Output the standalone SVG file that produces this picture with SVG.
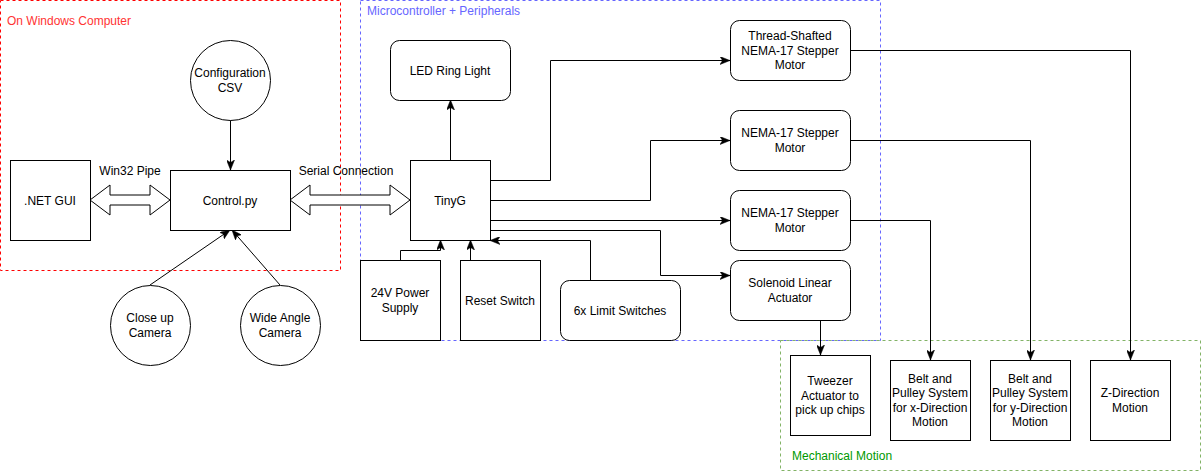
<svg xmlns="http://www.w3.org/2000/svg" width="1202" height="472" viewBox="0 0 1202 472">
<style>
text{font-family:"Liberation Sans",Arial,sans-serif;font-size:12px;fill:#000;text-anchor:middle}
.lbl{text-anchor:start}
.box{fill:#fff;stroke:#000;stroke-width:1}
.wire{fill:none;stroke:#000;stroke-width:1}
.arr{marker-end:url(#ah)}
.fat{fill:#fff;stroke:#000;stroke-width:1}
</style>
<defs>
<marker id="ah" markerUnits="userSpaceOnUse" viewBox="0 0 10 8" refX="10" refY="4" markerWidth="10" markerHeight="8" orient="auto">
<path d="M0,0 L10,4 L0,8 L2.5,4 z" fill="#000" stroke="#000" stroke-width="0.5"/>
</marker>
</defs>
<rect width="1202" height="472" fill="#fff"/>

<g id="containers">
<rect x="0.5" y="0.5" width="340" height="270" fill="none" stroke="#FF0000" stroke-dasharray="3 3"/>
<text class="lbl" x="7" y="25" style="fill:#FF3333">On Windows Computer</text>
<rect x="360.5" y="0.5" width="520" height="340" fill="none" stroke="#6666FF" stroke-dasharray="3 3"/>
<text class="lbl" x="367" y="15" style="fill:#6666FF">Microcontroller + Peripherals</text>
<rect x="780.5" y="340.5" width="420" height="130" fill="none" stroke="#82B366" stroke-dasharray="3 3"/>
<text class="lbl" x="792" y="460" style="fill:#009900">Mechanical Motion</text>
</g>

<g id="connectors">
<path class="wire arr" d="M230.5,120 V170"/>
<path class="wire arr" d="M150,285 L230,230"/>
<path class="wire arr" d="M280,285 L232,230"/>
<polygon class="fat" points="90,200 110,185 110,195 150,195 150,185 170,200 150,215 150,205 110,205 110,215"/>
<polygon class="fat" points="290,200 310,185 310,195 390,195 390,185 410,200 390,215 390,205 310,205 310,215"/>
<text x="130" y="175">Win32 Pipe</text>
<text x="346" y="175">Serial Connection</text>
<path class="wire arr" d="M450.5,160 V100"/>
<path class="wire arr" d="M490,180.5 H550.5 V60.5 H730"/>
<path class="wire arr" d="M490,200.5 H650.5 V140.5 H730"/>
<path class="wire arr" d="M490,220.5 H730"/>
<path class="wire arr" d="M490,230.5 H660.5 V275.5 H730"/>
<path class="wire arr" d="M400.5,260 V250.5 H440.5 V240"/>
<path class="wire arr" d="M470.5,260 V240"/>
<path class="wire arr" d="M590.5,280 V240.5 H490"/>
<path class="wire arr" d="M820.5,320 V355"/>
<path class="wire arr" d="M850,220.5 H930.5 V360"/>
<path class="wire arr" d="M850,140.5 H1030.5 V360"/>
<path class="wire arr" d="M850,50.5 H1130.5 V360"/>
</g>

<g id="net-gui"><rect class="box" x="10.5" y="160.5" width="80" height="80"/><text x="50" y="205">.NET GUI</text></g>
<g id="control-py"><rect class="box" x="170.5" y="170.5" width="120" height="60"/><text x="230" y="205">Control.py</text></g>
<g id="config-csv"><circle class="box" cx="230.5" cy="80.5" r="40"/><text x="230" y="77">Configuration</text><text x="230" y="92">CSV</text></g>
<g id="closeup-camera"><circle class="box" cx="150.5" cy="325.5" r="40"/><text x="150" y="322">Close up</text><text x="150" y="337">Camera</text></g>
<g id="wide-camera"><circle class="box" cx="280.5" cy="325.5" r="40"/><text x="280" y="322">Wide Angle</text><text x="280" y="337">Camera</text></g>

<g id="led-ring"><rect class="box" x="390.5" y="40.5" width="120" height="60" rx="9"/><text x="450" y="75">LED Ring Light</text></g>
<g id="tinyg"><rect class="box" x="410.5" y="160.5" width="80" height="80"/><text x="450" y="205">TinyG</text></g>
<g id="power"><rect class="box" x="360.5" y="260.5" width="80" height="80"/><text x="400" y="297">24V Power</text><text x="400" y="312">Supply</text></g>
<g id="reset"><rect class="box" x="460.5" y="260.5" width="80" height="80"/><text x="500" y="305">Reset Switch</text></g>
<g id="limits"><rect class="box" x="560.5" y="280.5" width="120" height="60" rx="9"/><text x="620" y="315">6x Limit Switches</text></g>

<g id="thread-motor"><rect class="box" x="730.5" y="20.5" width="120" height="60" rx="9"/><text x="790" y="40">Thread-Shafted</text><text x="790" y="55">NEMA-17 Stepper</text><text x="790" y="69">Motor</text></g>
<g id="nema-2"><rect class="box" x="730.5" y="110.5" width="120" height="60" rx="9"/><text x="790" y="137">NEMA-17 Stepper</text><text x="790" y="152">Motor</text></g>
<g id="nema-3"><rect class="box" x="730.5" y="190.5" width="120" height="60" rx="9"/><text x="790" y="217">NEMA-17 Stepper</text><text x="790" y="232">Motor</text></g>
<g id="solenoid"><rect class="box" x="730.5" y="260.5" width="120" height="60" rx="9"/><text x="790" y="287">Solenoid Linear</text><text x="790" y="302">Actuator</text></g>

<g id="tweezer"><rect class="box" x="790.5" y="355.5" width="80" height="80"/><text x="830" y="385">Tweezer</text><text x="830" y="400">Actuator to</text><text x="830" y="414">pick up chips</text></g>
<g id="belt-x"><rect class="box" x="890.5" y="360.5" width="80" height="80"/><text x="930" y="383">Belt and</text><text x="930" y="397">Pulley System</text><text x="930" y="412">for x-Direction</text><text x="930" y="426">Motion</text></g>
<g id="belt-y"><rect class="box" x="990.5" y="360.5" width="80" height="80"/><text x="1030" y="383">Belt and</text><text x="1030" y="397">Pulley System</text><text x="1030" y="412">for y-Direction</text><text x="1030" y="426">Motion</text></g>
<g id="z-motion"><rect class="box" x="1090.5" y="360.5" width="80" height="80"/><text x="1130" y="397">Z-Direction</text><text x="1130" y="412">Motion</text></g>
</svg>
